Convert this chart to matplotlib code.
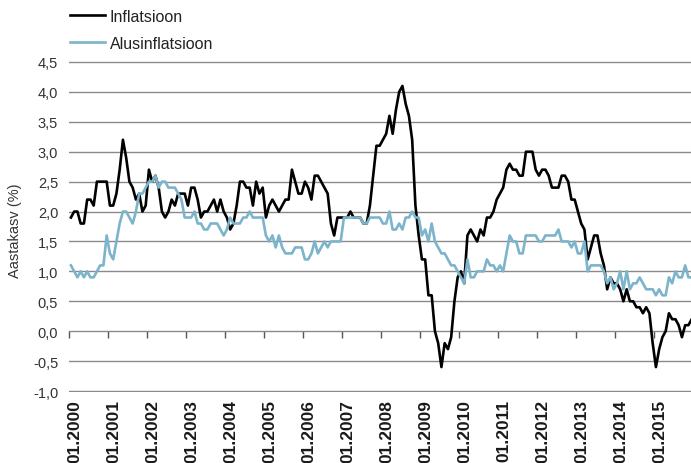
import numpy as np
import matplotlib
matplotlib.use("Agg")
import matplotlib.pyplot as plt

# inflation, % y/y, monthly 01.2000 - 12.2015
inflatsioon = [
    1.9, 2.0, 2.0, 1.8, 1.8, 2.2, 2.2, 2.1, 2.5, 2.5, 2.5, 2.5,   # 2000
    2.1, 2.1, 2.3, 2.7, 3.2, 2.9, 2.5, 2.4, 2.2, 2.3, 2.0, 2.1,   # 2001
    2.7, 2.5, 2.6, 2.4, 2.0, 1.9, 2.0, 2.2, 2.1, 2.3, 2.3, 2.3,   # 2002
    2.1, 2.4, 2.4, 2.2, 1.9, 2.0, 2.0, 2.1, 2.2, 2.0, 2.2, 2.0,   # 2003
    1.9, 1.7, 1.8, 2.1, 2.5, 2.5, 2.4, 2.4, 2.1, 2.5, 2.3, 2.4,   # 2004
    1.9, 2.1, 2.2, 2.1, 2.0, 2.1, 2.2, 2.2, 2.7, 2.5, 2.3, 2.3,   # 2005
    2.5, 2.4, 2.2, 2.6, 2.6, 2.5, 2.4, 2.3, 1.8, 1.6, 1.9, 1.9,   # 2006
    1.9, 1.9, 2.0, 1.9, 1.9, 1.9, 1.8, 1.8, 2.1, 2.6, 3.1, 3.1,   # 2007
    3.2, 3.3, 3.6, 3.3, 3.7, 4.0, 4.1, 3.8, 3.6, 3.2, 2.1, 1.6,   # 2008
    1.2, 1.2, 0.6, 0.6, 0.0, -0.2, -0.6, -0.2, -0.3, -0.1, 0.5, 0.9,  # 2009
    1.0, 0.8, 1.6, 1.7, 1.6, 1.5, 1.7, 1.6, 1.9, 1.9, 2.0, 2.2,   # 2010
    2.3, 2.4, 2.7, 2.8, 2.7, 2.7, 2.6, 2.6, 3.0, 3.0, 3.0, 2.7,   # 2011
    2.6, 2.7, 2.7, 2.6, 2.4, 2.4, 2.4, 2.6, 2.6, 2.5, 2.2, 2.2,   # 2012
    2.0, 1.8, 1.7, 1.2, 1.4, 1.6, 1.6, 1.3, 1.1, 0.7, 0.9, 0.8,   # 2013
    0.8, 0.7, 0.5, 0.7, 0.5, 0.5, 0.4, 0.4, 0.3, 0.4, 0.3, -0.2,  # 2014
    -0.6, -0.3, -0.1, 0.0, 0.3, 0.2, 0.2, 0.1, -0.1, 0.1, 0.1, 0.2,  # 2015
]

alusinflatsioon = [
    1.1, 1.0, 0.9, 1.0, 0.9, 1.0, 0.9, 0.9, 1.0, 1.1, 1.1, 1.6,   # 2000
    1.3, 1.2, 1.5, 1.8, 2.0, 2.0, 1.9, 1.8, 2.0, 2.3, 2.3, 2.4,   # 2001
    2.5, 2.5, 2.6, 2.4, 2.5, 2.5, 2.4, 2.4, 2.4, 2.3, 2.2, 1.9,   # 2002
    1.9, 1.9, 2.0, 1.8, 1.8, 1.7, 1.7, 1.8, 1.8, 1.8, 1.7, 1.6,   # 2003
    1.7, 1.9, 1.8, 1.8, 1.8, 1.9, 1.9, 2.0, 1.9, 1.9, 1.9, 1.9,   # 2004
    1.6, 1.5, 1.6, 1.4, 1.6, 1.4, 1.3, 1.3, 1.3, 1.4, 1.4, 1.4,   # 2005
    1.2, 1.2, 1.3, 1.5, 1.3, 1.4, 1.5, 1.4, 1.5, 1.5, 1.5, 1.5,   # 2006
    1.9, 1.9, 1.9, 1.9, 1.9, 1.9, 1.8, 1.8, 1.9, 1.9, 1.9, 1.9,   # 2007
    1.8, 1.8, 2.0, 1.7, 1.7, 1.8, 1.7, 1.9, 1.9, 2.0, 1.9, 1.9,   # 2008
    1.6, 1.7, 1.5, 1.8, 1.5, 1.4, 1.3, 1.3, 1.2, 1.1, 1.1, 1.0,   # 2009
    0.9, 0.8, 1.2, 0.9, 0.9, 1.0, 1.0, 1.0, 1.2, 1.1, 1.1, 1.0,   # 2010
    1.1, 1.0, 1.3, 1.6, 1.5, 1.5, 1.3, 1.3, 1.6, 1.6, 1.6, 1.6,   # 2011
    1.5, 1.5, 1.6, 1.6, 1.6, 1.6, 1.7, 1.5, 1.5, 1.5, 1.4, 1.5,   # 2012
    1.3, 1.3, 1.5, 1.0, 1.1, 1.1, 1.1, 1.1, 1.0, 0.8, 0.9, 0.7,   # 2013
    0.8, 1.0, 0.7, 1.0, 0.7, 0.8, 0.8, 0.9, 0.8, 0.7, 0.7, 0.7,   # 2014
    0.6, 0.7, 0.6, 0.6, 0.9, 0.8, 1.0, 0.9, 0.9, 1.1, 0.9, 0.9,   # 2015
]

years = list(range(2000, 2016))
year_labels = ["01.%d" % y for y in years]
y_ticks = [-1.0, -0.5, 0.0, 0.5, 1.0, 1.5, 2.0, 2.5, 3.0, 3.5, 4.0, 4.5]

plt.rcParams['font.family'] = ['Liberation Sans', 'DejaVu Sans']

W, H = 691, 464
fig = plt.figure(figsize=(W / 100, H / 100), dpi=100)
ax = fig.add_axes([69.3 / W, (H - 393.2) / H, (W - 69.3) / W, (393.2 - 61.8) / H])

x = np.arange(len(inflatsioon))
ax.plot(x, inflatsioon, color='black', lw=1.9, label='Inflatsioon', zorder=3)
ax.plot(x, alusinflatsioon, color='#7BB4CB', lw=1.9, label='Alusinflatsioon', zorder=4)

ax.set_ylim(-1.02, 4.52)
ax.set_xlim(-0.5, -0.5 + (W - 69.3) / 3.25)

ax.set_yticks(y_ticks)
ax.set_yticklabels([("%.1f" % v).replace('.', ',') for v in y_ticks])
ax.tick_params(axis='y', length=0, pad=8, labelsize=10.5, labelcolor='#333333')
ax.grid(axis='y', color='#8a8a8a', lw=1.0)
ax.set_axisbelow(True)

# year labels at the bottom
ax.set_xticks([12 * k + 1.25 for k in range(len(years))])
ax.set_xticklabels(year_labels, rotation=90, fontweight='bold', fontsize=12.5, color='#1a1a1a')
ax.tick_params(axis='x', length=0, pad=5)

for s in ax.spines.values():
    s.set_visible(False)

# tick marks on the zero line
sec = ax.secondary_xaxis((0 + 1.02) / 5.54)
sec.set_xticks([12 * k - 0.5 for k in range(len(years))])
sec.xaxis.set_ticks_position('bottom')
sec.tick_params(axis='x', direction='out', length=5, width=1, color='#555555', labelbottom=False, labeltop=False)
for s in sec.spines.values():
    s.set_visible(False)

fig.text(15 / W, 1 - 231 / H, 'Aastakasv (%)', rotation=90, ha='center', va='center',
         fontsize=10.5, color='#333333')

fig.legend(loc='upper left', bbox_to_anchor=(70 / W, 1 - 10 / H), frameon=False,
           borderpad=0, borderaxespad=0, handlelength=2.2, handletextpad=0.3,
           labelspacing=0.75, fontsize=11.5, labelcolor='#222222')

fig.savefig('out.png', dpi=100)
